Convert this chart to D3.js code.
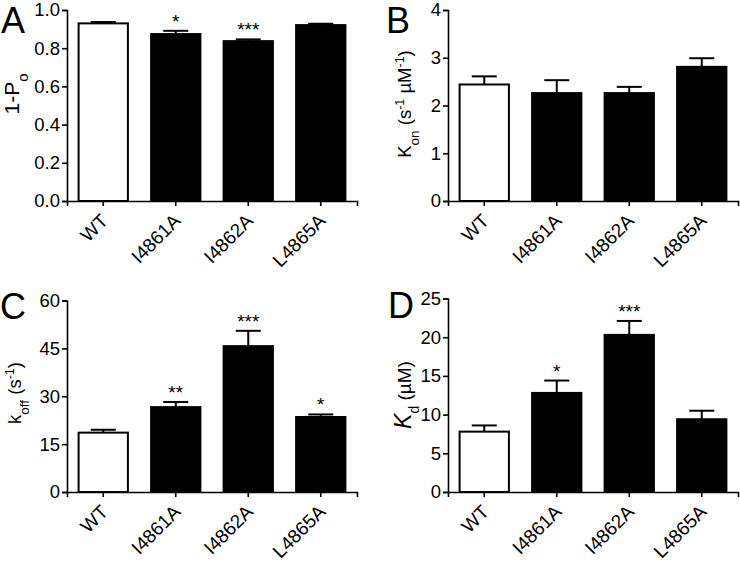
<!DOCTYPE html>
<html>
<head>
<meta charset="utf-8">
<script src="https://cdn.jsdelivr.net/npm/d3@7"></script>
<style>
  html, body { margin: 0; padding: 0; background: #fff; }
  svg { display: block; font-family: "Liberation Sans", Arial, sans-serif; }
</style>
</head>
<body>
<svg id="chart" width="740" height="561"></svg>
<script>
// ---------------- data ----------------
const categories = ["WT", "I4861A", "I4862A", "L4865A"];

const openProbValues = [0.930, 0.874, 0.837, 0.921];
const openProbErrors = [0.007, 0.017, 0.009, 0.007];
const openProbSig = ["", "*", "***", ""];
const openProbTicks = [0, 0.2, 0.4, 0.6, 0.8, 1.0];

const konValues = [2.44, 2.26, 2.26, 2.81];
const konErrors = [0.17, 0.27, 0.13, 0.18];
const konSig = ["", "", "", ""];
const konTicks = [0, 1, 2, 3, 4];

const koffValues = [18.6, 26.6, 45.7, 23.5];
const koffErrors = [0.9, 1.6, 4.8, 0.8];
const koffSig = ["", "**", "***", "*"];
const koffTicks = [0, 15, 30, 45, 60];

const kdValues = [7.8, 12.8, 20.3, 9.4];
const kdErrors = [0.8, 1.6, 1.8, 1.1];
const kdSig = ["", "*", "***", ""];
const kdTicks = [0, 5, 10, 15, 20, 25];

const barFills = ["#ffffff", "#000000", "#000000", "#000000"];

// ---------------- drawing ----------------
const svg = d3.select("#chart");
const FONT = "Liberation Sans, Arial, sans-serif";

function panel(opts) {
  const g = svg.append("g");
  const x = d3.scaleBand().domain(categories)
    .range([opts.left, opts.right]).paddingInner(0.32).paddingOuter(0.16);
  const y = d3.scaleLinear().domain([0, opts.max]).range([opts.bottom, opts.top]);

  // bars
  g.selectAll("rect.bar").data(categories).join("rect")
    .attr("class", "bar")
    .attr("x", d => x(d))
    .attr("width", x.bandwidth())
    .attr("y", (d, i) => y(opts.values[i]))
    .attr("height", (d, i) => y(0) - y(opts.values[i]))
    .attr("fill", (d, i) => barFills[i])
    .attr("stroke", "#000")
    .attr("stroke-width", 2);

  // error bars (upper only)
  const capW = 25;
  g.selectAll("line.err").data(categories).join("line")
    .attr("class", "err")
    .attr("x1", d => x(d) + x.bandwidth() / 2)
    .attr("x2", d => x(d) + x.bandwidth() / 2)
    .attr("y1", (d, i) => y(opts.values[i]))
    .attr("y2", (d, i) => y(opts.values[i] + opts.errors[i]))
    .attr("stroke", "#000").attr("stroke-width", 2);
  g.selectAll("line.cap").data(categories).join("line")
    .attr("class", "cap")
    .attr("x1", d => x(d) + x.bandwidth() / 2 - capW / 2)
    .attr("x2", d => x(d) + x.bandwidth() / 2 + capW / 2)
    .attr("y1", (d, i) => y(opts.values[i] + opts.errors[i]))
    .attr("y2", (d, i) => y(opts.values[i] + opts.errors[i]))
    .attr("stroke", "#000").attr("stroke-width", 2);

  // significance stars
  g.selectAll("text.sig").data(categories).join("text")
    .attr("class", "sig")
    .attr("x", d => x(d) + x.bandwidth() / 2)
    .attr("y", (d, i) => y(opts.values[i] + opts.errors[i]) - 3)
    .attr("text-anchor", "middle")
    .attr("font-size", 19)
    .text((d, i) => opts.sig[i]);

  // y axis
  const yAxis = g.append("g")
    .attr("transform", `translate(${opts.left},0)`)
    .call(d3.axisLeft(y).tickValues(opts.ticks).tickFormat(opts.fmt)
      .tickSizeOuter(0).tickSize(5).tickPadding(2));
  yAxis.selectAll("text").attr("font-size", 18.5).attr("fill", "#000")
    .attr("font-family", FONT);

  // x axis
  const xAxis = g.append("g")
    .attr("transform", `translate(0,${opts.bottom})`)
    .call(d3.axisBottom(x).tickSizeOuter(0).tickSize(5));
  xAxis.selectAll("text")
    .attr("font-size", 19).attr("fill", "#000")
    .attr("font-family", FONT)
    .attr("text-anchor", "end")
    .attr("y", 0).attr("dy", 0)
    .attr("transform", "translate(6,21) rotate(-45)");

  [yAxis, xAxis].forEach(a => {
    a.selectAll("path.domain").attr("stroke", "#000").attr("stroke-width", 1.6);
    a.selectAll(".tick line").attr("stroke", "#000").attr("stroke-width", 1.6);
  });

  // panel letter
  g.append("text")
    .attr("x", opts.letterX).attr("y", opts.letterY)
    .attr("font-size", 36)
    .text(opts.letter);

  // y axis title
  const t = g.append("text")
    .attr("transform", `translate(${opts.titleX},${opts.titleY}) rotate(-90)`)
    .attr("text-anchor", "middle")
    .attr("font-size", opts.titleSize || 18.5);
  opts.title(t);
}

function sub(t, s, size) {
  t.append("tspan").attr("baseline-shift", "sub").attr("font-size", size || 13.5).text(s);
}
function sup(t, s, size) {
  t.append("tspan").attr("baseline-shift", "super").attr("font-size", size || 12.5).text(s);
}

panel({
  left: 67, right: 357, top: 10, bottom: 201,
  max: 1.0, values: openProbValues, errors: openProbErrors, sig: openProbSig,
  ticks: openProbTicks, fmt: d3.format(".1f"),
  letter: "A", letterX: 1, letterY: 33,
  titleX: 19, titleY: 94, titleSize: 21,
  title: t => { t.append("tspan").text("1-P"); sub(t, "o", 15); }
});

panel({
  left: 448, right: 738, top: 10, bottom: 201,
  max: 4, values: konValues, errors: konErrors, sig: konSig,
  ticks: konTicks, fmt: d3.format("d"),
  letter: "B", letterX: 386, letterY: 33,
  titleX: 411, titleY: 104,
  title: t => {
    t.append("tspan").text("K"); sub(t, "on");
    t.append("tspan").text(" (s"); sup(t, "-1");
    t.append("tspan").text(" \u00b5M"); sup(t, "-1");
    t.append("tspan").text(")");
  }
});

panel({
  left: 67, right: 357, top: 300.5, bottom: 492,
  max: 60, values: koffValues, errors: koffErrors, sig: koffSig,
  ticks: koffTicks, fmt: d3.format("d"),
  letter: "C", letterX: 0, letterY: 319,
  titleX: 21, titleY: 393,
  title: t => {
    t.append("tspan").text("k"); sub(t, "off");
    t.append("tspan").text(" (s"); sup(t, "-1");
    t.append("tspan").text(")");
  }
});

panel({
  left: 448, right: 738, top: 298.5, bottom: 492,
  max: 25, values: kdValues, errors: kdErrors, sig: kdSig,
  ticks: kdTicks, fmt: d3.format("d"),
  letter: "D", letterX: 388, letterY: 318,
  titleX: 411, titleY: 395, titleSize: 19,
  title: t => {
    t.append("tspan").attr("font-style", "italic").attr("font-size", 23).text("K");
    sub(t, "d", 14);
    t.append("tspan").text(" (\u00b5M)");
  }
});
</script>
</body>
</html>
